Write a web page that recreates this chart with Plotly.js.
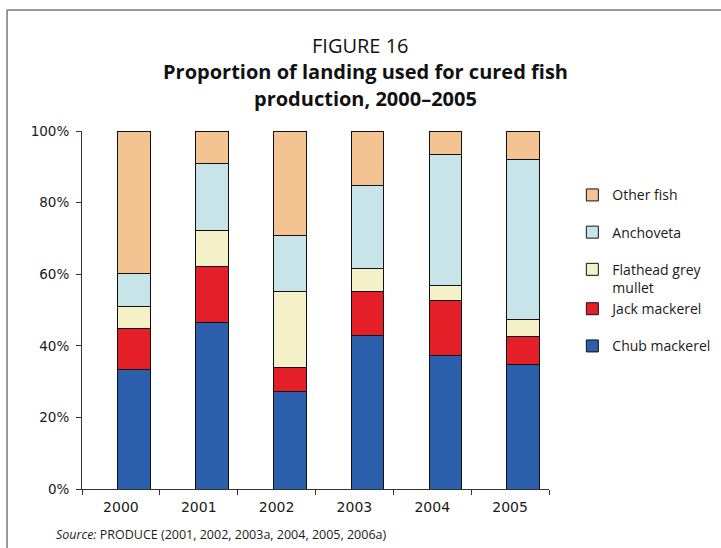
<!DOCTYPE html>
<html>
<head>
<meta charset="utf-8">
<script src="https://cdn.plot.ly/plotly-3.0.1.min.js"></script>
<style>
html,body{margin:0;padding:0;background:#fff;}
#chart{width:721px;height:548px;}
</style>
</head>
<body>
<div id="chart"></div>
<script>
// Categories
const years = ['2000', '2001', '2002', '2003', '2004', '2005'];
// Series values (% of landing)
const chubMackerel = [33.3, 46.4, 27.3, 42.9, 37.2, 34.9];
const jackMackerel = [11.4, 15.8, 6.7, 12.3, 15.4, 7.7];
const flatheadGreyMullet = [6.3, 10.1, 21.2, 6.4, 4.2, 4.7];
const anchoveta = [9.2, 18.6, 15.7, 23.3, 36.7, 44.8];
const otherFish = [39.8, 9.1, 29.1, 15.1, 6.5, 7.9];
// Tick values and labels
const yTicks = [0, 20, 40, 60, 80, 100];
const yTickLabels = ['0%', '20%', '40%', '60%', '80%', '100%'];

const seriesNames = ['Chub mackerel', 'Jack mackerel', 'Flathead grey<br>mullet', 'Anchoveta', 'Other fish'];
const seriesData = [chubMackerel, jackMackerel, flatheadGreyMullet, anchoveta, otherFish];
const seriesColors = ['#2b5fab', '#e41f28', '#f4f0c8', '#c7e5e9', '#f3c392'];
const seriesGroups = ['a', 'b', 'b', 'c', 'd'];
const seriesRanks = [5, 4, 3, 2, 1];

const traces = seriesData.map((vals, i) => ({
  type: 'bar',
  name: seriesNames[i],
  x: years,
  y: vals,
  width: 0.42,
  offset: -0.04,
  legendgroup: seriesGroups[i],
  legendrank: seriesRanks[i],
  marker: {color: seriesColors[i], line: {color: '#111', width: 1}},
  hoverinfo: 'skip'
}));

const font = "'Open Sans', 'Noto Sans', sans-serif";
const tickFont = "'DejaVu Sans', sans-serif";

const layout = {
  width: 721,
  height: 548,
  margin: {l: 82, r: 172, t: 131, b: 59, autoexpand: false},
  paper_bgcolor: '#fff',
  plot_bgcolor: '#fff',
  barmode: 'stack',
  showlegend: true,
  legend: {
    x: 1.05, xanchor: 'left',
    y: 0.865, yanchor: 'top',
    traceorder: 'grouped',
    tracegroupgap: 16,
    valign: 'top',
    font: {family: font, size: 14, color: '#1a1a1a'},
    bgcolor: 'rgba(0,0,0,0)'
  },
  xaxis: {
    type: 'category',
    showline: true, linecolor: '#333', linewidth: 1,
    ticks: 'outside', tickson: 'boundaries', ticklen: 5, tickcolor: '#333',
    ticklabelstandoff: 5,
    tickfont: {family: tickFont, size: 14, color: '#1a1a1a'},
    showgrid: false, zeroline: false, fixedrange: true, automargin: false
  },
  yaxis: {
    range: [0, 100],
    tickmode: 'array',
    tickvals: yTicks,
    ticktext: yTickLabels,
    showline: true, linecolor: '#333', linewidth: 1,
    ticks: 'outside', ticklen: 5, tickcolor: '#333',
    ticklabelstandoff: 4,
    tickfont: {family: tickFont, size: 13.5, color: '#1a1a1a'},
    showgrid: false, zeroline: false, fixedrange: true, automargin: false
  },
  annotations: [
    {text: 'FIGURE 16', xref: 'paper', yref: 'paper', x: 0.596, y: 1.240, xanchor: 'center', yanchor: 'middle', showarrow: false, font: {family: font, size: 20, color: '#111'}},
    {text: '<b>Proportion of landing used for cured fish</b>', xref: 'paper', yref: 'paper', x: 0.606, y: 1.165, xanchor: 'center', yanchor: 'middle', showarrow: false, font: {family: font, size: 20, color: '#111'}},
    {text: '<b>production, 2000–2005</b>', xref: 'paper', yref: 'paper', x: 0.606, y: 1.092, xanchor: 'center', yanchor: 'middle', showarrow: false, font: {family: font, size: 20, color: '#111'}},
    {text: '<i>Source:</i> PRODUCE (2001, 2002, 2003a, 2004, 2005, 2006a)', xref: 'paper', yref: 'paper', x: -0.06, y: -0.128, xanchor: 'left', yanchor: 'middle', showarrow: false, font: {family: font, size: 12.5, color: '#1a1a1a'}}
  ],
  shapes: [
    {type: 'line', xref: 'paper', yref: 'paper', x0: -0.1605, x1: 1.40, y0: 1.338, y1: 1.338, line: {color: '#777', width: 1.5}},
    {type: 'line', xref: 'paper', yref: 'paper', x0: -0.1605, x1: -0.1605, y0: 1.338, y1: -0.2, line: {color: '#777', width: 1.5}}
  ]
};

Plotly.newPlot('chart', traces, layout, {staticPlot: true, displayModeBar: false});
</script>
</body>
</html>
